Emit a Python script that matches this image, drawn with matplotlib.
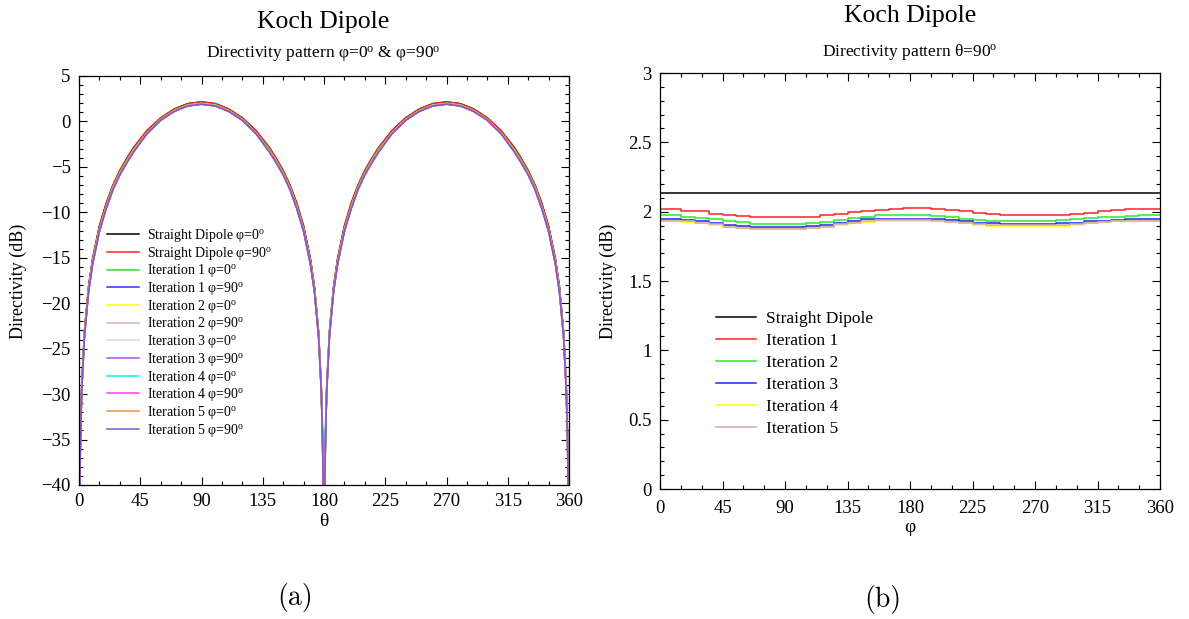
import matplotlib
matplotlib.use('Agg')
import matplotlib.pyplot as plt
from matplotlib.ticker import MultipleLocator, FuncFormatter

plt.rcParams['font.family'] = ['Liberation Serif', 'DejaVu Serif']
plt.rcParams['mathtext.fontset'] = 'custom'
plt.rcParams['mathtext.rm'] = 'Liberation Serif'
plt.rcParams['mathtext.it'] = 'Liberation Serif:italic'
plt.rcParams['axes.unicode_minus'] = True

# ---------------- data: panel (a), directivity vs theta ----------------
theta = [0, 1, 2, 4, 7, 10, 15, 20, 25, 30, 35, 40, 50, 60, 70, 80, 90,
         100, 110, 120, 130, 140, 145, 150, 155, 160, 165, 170, 173, 176, 178, 179, 180,
         181, 182, 184, 187, 190, 195, 200, 205, 210, 215, 220, 230, 240, 250, 260, 270,
         280, 290, 300, 310, 320, 325, 330, 335, 340, 345, 350, 353, 356, 358, 359, 360]

straight_phi0 = [-50, -35.1, -29.1, -23.1, -18.2, -15.1, -11.5, -9.0, -7.0, -5.4, -4.1, -2.9, -1.0, 0.39, 1.37, 1.96, 2.15,
                 1.96, 1.37, 0.39, -1.0, -2.9, -4.1, -5.4, -7.0, -9.0, -11.5, -15.1, -18.2, -23.1, -29.1, -35.1, -50,
                 -35.1, -29.1, -23.1, -18.2, -15.1, -11.5, -9.0, -7.0, -5.4, -4.1, -2.9, -1.0, 0.39, 1.37, 1.96, 2.15,
                 1.96, 1.37, 0.39, -1.0, -2.9, -4.1, -5.4, -7.0, -9.0, -11.5, -15.1, -18.2, -23.1, -29.1, -35.1, -50]
straight_phi90 = [-50, -35.1, -29.1, -23.1, -18.2, -15.1, -11.5, -9.0, -7.0, -5.4, -4.1, -2.9, -1.0, 0.39, 1.37, 1.96, 2.15,
                  1.96, 1.37, 0.39, -1.0, -2.9, -4.1, -5.4, -7.0, -9.0, -11.5, -15.1, -18.2, -23.1, -29.1, -35.1, -50,
                  -35.1, -29.1, -23.1, -18.2, -15.1, -11.5, -9.0, -7.0, -5.4, -4.1, -2.9, -1.0, 0.39, 1.37, 1.96, 2.15,
                  1.96, 1.37, 0.39, -1.0, -2.9, -4.1, -5.4, -7.0, -9.0, -11.5, -15.1, -18.2, -23.1, -29.1, -35.1, -50]
it1_phi0 = [-50, -35.4, -29.4, -23.4, -18.5, -15.4, -11.8, -9.3, -7.2, -5.6, -4.3, -3.1, -1.2, 0.24, 1.23, 1.83, 2.02,
            1.83, 1.23, 0.24, -1.2, -3.1, -4.3, -5.6, -7.2, -9.3, -11.8, -15.4, -18.5, -23.4, -29.4, -35.4, -50,
            -35.4, -29.4, -23.4, -18.5, -15.4, -11.8, -9.3, -7.2, -5.6, -4.3, -3.1, -1.2, 0.24, 1.23, 1.83, 2.02,
            1.83, 1.23, 0.24, -1.2, -3.1, -4.3, -5.6, -7.2, -9.3, -11.8, -15.4, -18.5, -23.4, -29.4, -35.4, -50]
it1_phi90 = [-50, -35.5, -29.5, -23.5, -18.6, -15.5, -11.9, -9.4, -7.3, -5.7, -4.4, -3.2, -1.25, 0.19, 1.17, 1.77, 1.96,
             1.77, 1.17, 0.19, -1.25, -3.2, -4.4, -5.7, -7.3, -9.4, -11.9, -15.5, -18.6, -23.5, -29.5, -35.5, -50,
             -35.5, -29.5, -23.5, -18.6, -15.5, -11.9, -9.4, -7.3, -5.7, -4.4, -3.2, -1.25, 0.19, 1.17, 1.77, 1.96,
             1.77, 1.17, 0.19, -1.25, -3.2, -4.4, -5.7, -7.3, -9.4, -11.9, -15.5, -18.6, -23.5, -29.5, -35.5, -50]
it2_phi0 = [-50, -35.5, -29.5, -23.5, -18.6, -15.5, -11.9, -9.4, -7.3, -5.7, -4.4, -3.2, -1.24, 0.20, 1.19, 1.79, 1.98,
            1.79, 1.19, 0.20, -1.24, -3.2, -4.4, -5.7, -7.3, -9.4, -11.9, -15.5, -18.6, -23.5, -29.5, -35.5, -50,
            -35.5, -29.5, -23.5, -18.6, -15.5, -11.9, -9.4, -7.3, -5.7, -4.4, -3.2, -1.24, 0.20, 1.19, 1.79, 1.98,
            1.79, 1.19, 0.20, -1.24, -3.2, -4.4, -5.7, -7.3, -9.4, -11.9, -15.5, -18.6, -23.5, -29.5, -35.5, -50]
it2_phi90 = [-50, -35.6, -29.6, -23.6, -18.7, -15.6, -12.0, -9.5, -7.4, -5.8, -4.5, -3.3, -1.30, 0.15, 1.13, 1.73, 1.92,
             1.73, 1.13, 0.15, -1.30, -3.3, -4.5, -5.8, -7.4, -9.5, -12.0, -15.6, -18.7, -23.6, -29.6, -35.6, -50,
             -35.6, -29.6, -23.6, -18.7, -15.6, -12.0, -9.5, -7.4, -5.8, -4.5, -3.3, -1.30, 0.15, 1.13, 1.73, 1.92,
             1.73, 1.13, 0.15, -1.30, -3.3, -4.5, -5.8, -7.4, -9.5, -12.0, -15.6, -18.7, -23.6, -29.6, -35.6, -50]
it3_phi0 = [-50, -35.6, -29.6, -23.6, -18.7, -15.6, -12.0, -9.5, -7.4, -5.8, -4.5, -3.3, -1.28, 0.17, 1.16, 1.76, 1.95,
            1.76, 1.16, 0.17, -1.28, -3.3, -4.5, -5.8, -7.4, -9.5, -12.0, -15.6, -18.7, -23.6, -29.6, -35.6, -50,
            -35.6, -29.6, -23.6, -18.7, -15.6, -12.0, -9.5, -7.4, -5.8, -4.5, -3.3, -1.28, 0.17, 1.16, 1.76, 1.95,
            1.76, 1.16, 0.17, -1.28, -3.3, -4.5, -5.8, -7.4, -9.5, -12.0, -15.6, -18.7, -23.6, -29.6, -35.6, -50]
it3_phi90 = [-50, -35.7, -29.7, -23.7, -18.8, -15.7, -12.1, -9.6, -7.5, -5.8, -4.5, -3.3, -1.33, 0.13, 1.11, 1.71, 1.90,
             1.71, 1.11, 0.13, -1.33, -3.3, -4.5, -5.8, -7.5, -9.6, -12.1, -15.7, -18.8, -23.7, -29.7, -35.7, -50,
             -35.7, -29.7, -23.7, -18.8, -15.7, -12.1, -9.6, -7.5, -5.8, -4.5, -3.3, -1.33, 0.13, 1.11, 1.71, 1.90,
             1.71, 1.11, 0.13, -1.33, -3.3, -4.5, -5.8, -7.5, -9.6, -12.1, -15.7, -18.8, -23.7, -29.7, -35.7, -50]
it4_phi0 = [-50, -35.6, -29.6, -23.6, -18.7, -15.6, -12.0, -9.5, -7.4, -5.8, -4.5, -3.3, -1.29, 0.16, 1.15, 1.75, 1.94,
            1.75, 1.15, 0.16, -1.29, -3.3, -4.5, -5.8, -7.4, -9.5, -12.0, -15.6, -18.7, -23.6, -29.6, -33.5, -37,
            -33.5, -29.6, -23.6, -18.7, -15.6, -12.0, -9.5, -7.4, -5.8, -4.5, -3.3, -1.29, 0.16, 1.15, 1.75, 1.94,
            1.75, 1.15, 0.16, -1.29, -3.3, -4.5, -5.8, -7.4, -9.5, -12.0, -15.6, -18.7, -23.6, -29.6, -35.6, -50]
it4_phi90 = [-50, -35.7, -29.7, -23.7, -18.8, -15.7, -12.1, -9.6, -7.5, -5.9, -4.6, -3.4, -1.34, 0.12, 1.10, 1.70, 1.89,
             1.70, 1.10, 0.12, -1.34, -3.4, -4.6, -5.9, -7.5, -9.6, -12.1, -15.7, -18.8, -23.7, -29.7, -35.7, -50,
             -35.7, -29.7, -23.7, -18.8, -15.7, -12.1, -9.6, -7.5, -5.9, -4.6, -3.4, -1.34, 0.12, 1.10, 1.70, 1.89,
             1.70, 1.10, 0.12, -1.34, -3.4, -4.6, -5.9, -7.5, -9.6, -12.1, -15.7, -18.8, -23.7, -29.7, -35.7, -50]
it5_phi0 = [-50, -35.6, -29.6, -23.6, -18.7, -15.6, -12.0, -9.5, -7.4, -5.8, -4.5, -3.3, -1.29, 0.16, 1.15, 1.75, 1.94,
            1.75, 1.15, 0.16, -1.29, -3.3, -4.5, -5.8, -7.4, -9.5, -12.0, -15.6, -18.7, -23.6, -29.6, -35.6, -50,
            -35.6, -29.6, -23.6, -18.7, -15.6, -12.0, -9.5, -7.4, -5.8, -4.5, -3.3, -1.29, 0.16, 1.15, 1.75, 1.94,
            1.75, 1.15, 0.16, -1.29, -3.3, -4.5, -5.8, -7.4, -9.5, -12.0, -15.6, -18.7, -23.6, -29.6, -35.6, -50]
it5_phi90 = [-50, -35.7, -29.7, -23.7, -18.8, -15.7, -12.1, -9.6, -7.5, -5.9, -4.6, -3.4, -1.34, 0.12, 1.10, 1.70, 1.89,
             1.70, 1.10, 0.12, -1.34, -3.4, -4.6, -5.9, -7.5, -9.6, -12.1, -15.7, -18.8, -23.7, -29.7, -35.7, -50,
             -35.7, -29.7, -23.7, -18.8, -15.7, -12.1, -9.6, -7.5, -5.9, -4.6, -3.4, -1.34, 0.12, 1.10, 1.70, 1.89,
             1.70, 1.10, 0.12, -1.34, -3.4, -4.6, -5.9, -7.5, -9.6, -12.1, -15.7, -18.8, -23.7, -29.7, -35.7, -50]

DEG = r'$^{\mathregular{o}}$'
labels_a = ['Straight Dipole φ=0' + DEG, 'Straight Dipole φ=90' + DEG,
            'Iteration 1 φ=0' + DEG, 'Iteration 1 φ=90' + DEG,
            'Iteration 2 φ=0' + DEG, 'Iteration 2 φ=90' + DEG,
            'Iteration 3 φ=0' + DEG, 'Iteration 3 φ=90' + DEG,
            'Iteration 4 φ=0' + DEG, 'Iteration 4 φ=90' + DEG,
            'Iteration 5 φ=0' + DEG, 'Iteration 5 φ=90' + DEG]
series_a = [straight_phi0, straight_phi90, it1_phi0, it1_phi90, it2_phi0, it2_phi90,
            it3_phi0, it3_phi90, it4_phi0, it4_phi90, it5_phi0, it5_phi90]
colors_a = ['#000000', '#ff2020', '#33dd33', '#3333ff', '#ffff00', '#d4b4bc',
            '#d8d8d8', '#b050e8', '#00eeee', '#ff40e0', '#f09040', '#8058c8']

# ---------------- data: panel (b), directivity vs phi ----------------
phi = [0, 10, 20, 30, 40, 50, 60, 70, 80, 90, 100, 110, 120, 130, 140, 150, 160, 170, 180,
       190, 200, 210, 220, 230, 240, 250, 260, 270, 280, 290, 300, 310, 320, 330, 340, 350, 360]
d_straight = [2.135, 2.135, 2.135, 2.135, 2.135, 2.135, 2.135, 2.135, 2.135, 2.135, 2.135, 2.135, 2.135,
              2.135, 2.135, 2.135, 2.135, 2.135, 2.135, 2.135, 2.135, 2.135, 2.135, 2.135, 2.135, 2.135,
              2.135, 2.135, 2.135, 2.135, 2.135, 2.135, 2.135, 2.135, 2.135, 2.135, 2.135]
d_it1 = [2.02, 2.02, 2.003, 2.003, 1.986, 1.978, 1.97, 1.961, 1.961, 1.961, 1.961, 1.961, 1.978,
         1.986, 1.995, 2.003, 2.01, 2.02, 2.025, 2.025, 2.02, 2.01, 2.003, 1.99, 1.986, 1.978,
         1.975, 1.975, 1.975, 1.978, 1.986, 1.99, 2.003, 2.01, 2.02, 2.02, 2.02]
d_it2 = [1.975, 1.975, 1.965, 1.955, 1.945, 1.935, 1.925, 1.91, 1.91, 1.91, 1.91, 1.915, 1.925,
         1.94, 1.955, 1.965, 1.975, 1.975, 1.975, 1.975, 1.97, 1.96, 1.95, 1.94, 1.935, 1.935,
         1.935, 1.935, 1.935, 1.94, 1.95, 1.955, 1.96, 1.965, 1.97, 1.975, 1.975]
d_it3 = [1.945, 1.945, 1.94, 1.93, 1.92, 1.905, 1.895, 1.89, 1.89, 1.89, 1.89, 1.895, 1.905,
         1.92, 1.935, 1.945, 1.95, 1.95, 1.95, 1.945, 1.945, 1.94, 1.93, 1.92, 1.915, 1.91,
         1.91, 1.91, 1.91, 1.915, 1.92, 1.93, 1.935, 1.94, 1.945, 1.945, 1.945]
d_it4 = [1.932, 1.932, 1.928, 1.918, 1.905, 1.89, 1.88, 1.875, 1.875, 1.875, 1.875, 1.88, 1.89,
         1.905, 1.918, 1.928, 1.935, 1.935, 1.935, 1.935, 1.93, 1.925, 1.915, 1.905, 1.90, 1.90,
         1.90, 1.90, 1.90, 1.90, 1.905, 1.915, 1.925, 1.93, 1.932, 1.932, 1.932]
d_it5 = [1.935, 1.935, 1.93, 1.92, 1.908, 1.893, 1.883, 1.878, 1.878, 1.878, 1.878, 1.883, 1.893,
         1.908, 1.92, 1.93, 1.937, 1.937, 1.937, 1.937, 1.932, 1.927, 1.918, 1.908, 1.903, 1.903,
         1.903, 1.903, 1.903, 1.903, 1.908, 1.918, 1.927, 1.932, 1.935, 1.935, 1.935]
labels_b = ['Straight Dipole', 'Iteration 1', 'Iteration 2', 'Iteration 3', 'Iteration 4', 'Iteration 5']
series_b = [d_straight, d_it1, d_it2, d_it3, d_it4, d_it5]
colors_b = ['#000000', '#ff2020', '#22ee22', '#2222ff', '#ffff00', '#d4a8a8']

# ---------------- figure ----------------
W, H = 1189, 619
fig = plt.figure(figsize=(W / 100, H / 100), dpi=100)


def fx(px):
    return px / W


def fy(py):
    return 1 - py / H


def style_axes(ax):
    ax.tick_params(which='both', direction='in', top=True, right=True, labelsize=13.5,
                   width=0.8, colors='black')
    ax.tick_params(which='major', length=6, pad=6)
    ax.tick_params(which='minor', length=3)
    for s in ax.spines.values():
        s.set_linewidth(0.9)


# panel (a)
ax1 = fig.add_axes([fx(79), fy(485), fx(569) - fx(79), fy(76) - fy(485)])
for vals, c, lab in zip(series_a, colors_a, labels_a):
    ax1.plot(theta, vals, color=c, lw=1.1, label=lab)
ax1.set_xlim(0, 360)
ax1.set_ylim(-40, 5)
ax1.xaxis.set_major_locator(MultipleLocator(45))
ax1.xaxis.set_minor_locator(MultipleLocator(15))
ax1.yaxis.set_major_locator(MultipleLocator(5))
ax1.yaxis.set_minor_locator(MultipleLocator(1))
style_axes(ax1)
ax1.legend(loc='upper left', bbox_to_anchor=(fx(107), fy(227)),
           bbox_transform=fig.transFigure, frameon=False, fontsize=10,
           handlelength=2.3, handletextpad=0.55, labelspacing=0.05,
           borderpad=0, borderaxespad=0)

# panel (b)
ax2 = fig.add_axes([fx(660), fy(489), fx(1160) - fx(660), fy(73) - fy(489)])
for vals, c, lab in zip(series_b, colors_b, labels_b):
    ax2.plot(phi, vals, color=c, lw=1.1, label=lab, drawstyle='steps-mid')
ax2.set_xlim(0, 360)
ax2.set_ylim(0, 3)
ax2.xaxis.set_major_locator(MultipleLocator(45))
ax2.xaxis.set_minor_locator(MultipleLocator(15))
ax2.yaxis.set_major_locator(MultipleLocator(0.5))
ax2.yaxis.set_minor_locator(MultipleLocator(0.1))
ax2.yaxis.set_major_formatter(FuncFormatter(lambda v, p: '%g' % v))
style_axes(ax2)
ax2.tick_params(axis='x', which='major', pad=8)
ax2.legend(loc='upper left', bbox_to_anchor=(fx(716), fy(311)),
           bbox_transform=fig.transFigure, frameon=False, fontsize=12.5,
           handlelength=2.3, handletextpad=0.57, labelspacing=0.34,
           borderpad=0, borderaxespad=0)

# titles and labels
fig.text(fx(323), fy(22), 'Koch Dipole', ha='center', va='center', fontsize=18.5)
fig.text(fx(323), fy(55), 'Directivity pattern φ=0' + DEG + ' & φ=90' + DEG,
         ha='center', va='center', fontsize=12.5)
fig.text(fx(910), fy(16), 'Koch Dipole', ha='center', va='center', fontsize=18.5)
fig.text(fx(910), fy(52), 'Directivity pattern θ=90' + DEG, ha='center', va='center', fontsize=12.5)

fig.text(fx(18), fy(281), 'Directivity (dB)', rotation=90, ha='center', va='center', fontsize=13)
fig.text(fx(608), fy(281), 'Directivity (dB)', rotation=90, ha='center', va='center', fontsize=13)
fig.text(fx(324), fy(522), 'θ', ha='center', va='center', fontsize=14)
fig.text(fx(910), fy(528), 'φ', ha='center', va='center', fontsize=14)

fig.text(fx(295), fy(597), '(a)', ha='center', va='center', fontsize=20, family='cmr10')
fig.text(fx(883), fy(600), '(b)', ha='center', va='center', fontsize=20, family='cmr10')

fig.savefig('out.png', dpi=100)
